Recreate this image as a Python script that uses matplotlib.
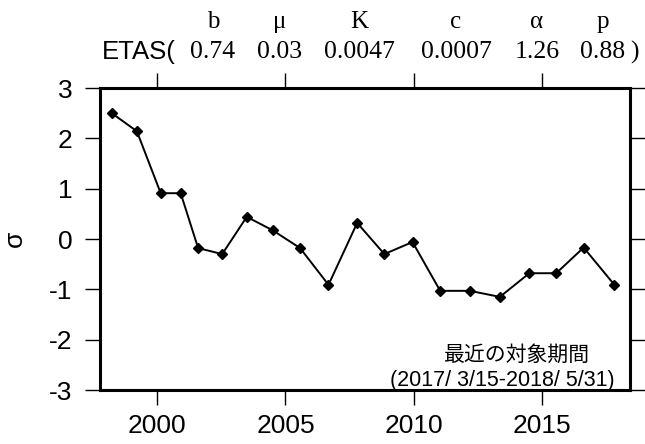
"""plot.py
ETAS residual sigma time series with parameter header."""

import matplotlib
matplotlib.use("Agg")
import matplotlib.pyplot as plt

plt.rcParams["axes.unicode_minus"] = False

# data
years = [1998.22, 1999.20, 2000.13, 2000.91, 2001.59, 2002.53, 2003.49, 2004.51,
         2005.57, 2006.68, 2007.80, 2008.86, 2009.96, 2011.04, 2012.20, 2013.37,
         2014.52, 2015.57, 2016.64, 2017.84]
sigma = [2.50, 2.14, 0.91, 0.91, -0.18, -0.30, 0.44, 0.17,
         -0.18, -0.91, 0.32, -0.30, -0.06, -1.03, -1.03, -1.15,
         -0.68, -0.68, -0.17, -0.91]

param_names = ["b", "\u03bc", "K", "c", "\u03b1", "p"]
param_values = ["0.74", "0.03", "0.0047", "0.0007", "1.26", "0.88"]
param_x = [213, 280, 359, 456, 537, 603]  # pixel centres of the header columns

x_ticks = [2000, 2005, 2010, 2015]
y_ticks = [-3, -2, -1, 0, 1, 2, 3]

W, H = 645, 444
fig = plt.figure(figsize=(W / 100, H / 100), dpi=100)
ax = fig.add_axes([100 / W, 1 - 390 / H, 530 / W, 302 / H])

ax.plot(years, sigma, color="black", lw=1.4, marker="D", ms=5)

ax.set_xlim(1997.76, 2018.45)
ax.set_ylim(-3, 3)
ax.set_xticks(x_ticks)
ax.set_yticks(y_ticks)
ax.tick_params(direction="out", length=11, width=1.0, labelsize=19,
               top=True, right=True)
ax.tick_params(axis="x", pad=6)
ax.tick_params(axis="y", pad=9)
for lbl in ax.get_xticklabels() + ax.get_yticklabels():
    lbl.set_family("Liberation Sans")
for sp in ax.spines.values():
    sp.set_linewidth(2.2)

ax.set_ylabel("\u03c3", fontsize=19, family="Liberation Sans", labelpad=16)

# header with ETAS parameters
def fx(px):
    return px / W

def fy(py):
    return 1 - py / H

fig.text(fx(102), fy(52), "ETAS(", fontsize=18.5, family="Liberation Sans",
         ha="left", va="center")
for name, val, px in zip(param_names, param_values, param_x):
    fig.text(fx(px), fy(22), name, fontsize=18, family="Liberation Serif",
             ha="center", va="center")
    fig.text(fx(px), fy(52), val, fontsize=18.5, family="Liberation Serif",
             ha="center", va="center")
fig.text(fx(630), fy(52), ")", fontsize=18.5, family="Liberation Serif",
         ha="left", va="center")

# period annotation
fig.text(fx(590), fy(355), "最近の対象期間", fontsize=15,
         family=["Noto Sans CJK JP", "DejaVu Sans"], ha="right", va="center")
fig.text(fx(615), fy(380), "(2017/ 3/15-2018/ 5/31)", fontsize=15.5,
         family="Liberation Sans", ha="right", va="center")

fig.savefig("out.png", dpi=100)
